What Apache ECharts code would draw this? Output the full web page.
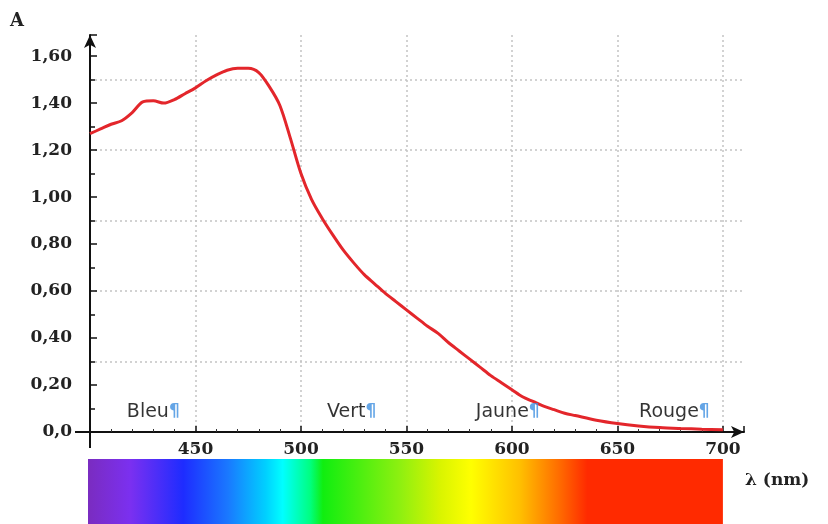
<!DOCTYPE html>
<html><head><meta charset="utf-8">
<script src="https://cdn.jsdelivr.net/npm/echarts@6/dist/echarts.min.js"></script>
<style>html,body{margin:0;padding:0;background:#fff}#c{width:828px;height:524px}</style>
</head><body><div id="c"></div>
<script>
// ---- data ----
const wavelengths = [400,405,410,415,420,425,430,435,440,445,450,455,460,465,470,475,480,485,490,495,500,505,510,515,520,525,530,535,540,545,550,555,560,565,570,575,580,585,590,595,600,605,610,615,620,625,630,640,650,660,670,680,690,700];
const absorbance  = [1.27,1.29,1.31,1.325,1.36,1.405,1.41,1.40,1.415,1.44,1.465,1.495,1.52,1.54,1.548,1.548,1.53,1.47,1.39,1.25,1.10,0.99,0.91,0.84,0.775,0.72,0.67,0.63,0.59,0.555,0.52,0.485,0.45,0.42,0.38,0.345,0.31,0.275,0.24,0.21,0.18,0.15,0.13,0.11,0.095,0.08,0.07,0.05,0.036,0.026,0.019,0.015,0.012,0.01];
const xTickValues = [450,500,550,600,650,700];
const yTickValues = [0,0.2,0.4,0.6,0.8,1.0,1.2,1.4,1.6];
const yTickLabels = ['0,0','0,20','0,40','0,60','0,80','1,00','1,20','1,40','1,60'];
const bandNames = ['Bleu','Vert','Jaune','Rouge'];
const bandWavelengths = [430,524,598,677];
const bandLevels = [0.085,0.085,0.085,0.085];
const spectrumWavelengths = [400,420,445,466,484,492,505,511,548,566,581,604,623,636,700];
const spectrumColors = ['#7a2cc0','#7b30f0','#1e2cff','#1a78ff','#00d0ff','#00ffff','#00ff80','#10ee10','#90f010','#d8f400','#ffff00','#ffc000','#ff6a00','#ff2a00','#ff2a00'];

const serifBold = {fontFamily:'DejaVu Serif', fontWeight:'bold', fontSize:17, color:'#222'};
const gridLine = {show:true, showMinLine:false, showMaxLine:false, lineStyle:{color:'#c4c4c4', type:[2,3], width:1.5}};

const chart = echarts.init(document.getElementById('c'), null, {renderer:'canvas'});
const option = {
  animation:false,
  backgroundColor:'#fff',
  grid:{left:90, right:84, top:35, bottom:92},
  xAxis:{
    type:'value', min:400, max:710, interval:50,
    axisLine:{show:true, onZero:false, symbol:['none','arrow'], symbolSize:[9,13], lineStyle:{color:'#111', width:2}},
    axisTick:{show:true, inside:true, length:6, lineStyle:{color:'#111', width:1.5}},
    minorTick:{show:true, splitNumber:5, length:3, lineStyle:{color:'#333', width:1}},
    axisLabel:Object.assign({margin:9, formatter:v => xTickValues.indexOf(v) >= 0 ? String(v) : ''}, serifBold),
    splitLine:gridLine
  },
  yAxis:[{
    type:'value', min:0, max:1.69, interval:0.2,
    axisLine:{show:true, symbol:['none','arrow'], symbolSize:[9,13], lineStyle:{color:'#111', width:2}},
    axisTick:{show:true, inside:true, length:7, lineStyle:{color:'#111', width:1.5}},
    minorTick:{show:true, splitNumber:2, length:5, lineStyle:{color:'#111', width:1.5}},
    axisLabel:Object.assign({margin:18, formatter:v => {
      const i = yTickValues.findIndex(t => Math.abs(t - v) < 1e-6);
      return i >= 0 ? yTickLabels[i] : '';
    }}, serifBold),
    splitLine:{show:false}
  },{
    type:'value', min:0, max:1.69, interval:0.3, position:'right',
    axisLine:{show:false}, axisTick:{show:false}, axisLabel:{show:false},
    splitLine:gridLine
  }],
  series:[{
    type:'line', name:'A',
    data: wavelengths.map((w,i) => [w, absorbance[i]]),
    showSymbol:false, smooth:0.3,
    lineStyle:{color:'#e3262b', width:3},
    z:3
  },{
    type:'scatter',
    data: bandNames.map((n,i) => ({name:n, value:[bandWavelengths[i], bandLevels[i]]})),
    symbolSize:0,
    label:{show:true, position:'inside', color:'#000', formatter:p => '{t|' + p.name + '}{p|¶}',
      rich:{t:{fontFamily:'DejaVu Sans', fontSize:19, color:'#000'},
            p:{fontFamily:'DejaVu Sans', fontSize:17, fontWeight:'bold', color:'#3d8fe0'}}},
    z:4
  }]
};
chart.setOption(option);

// decorations placed from the axis scales
const x400 = chart.convertToPixel({xAxisIndex:0}, 400);
const x700 = chart.convertToPixel({xAxisIndex:0}, 700);
const y0 = chart.convertToPixel({yAxisIndex:0}, 0);
const barTop = y0 + 27;
chart.setOption({graphic:[
  {type:'rect', shape:{x:x400 - 2, y:barTop, width:x700 - x400 + 2, height:524 - barTop},
   style:{fill:new echarts.graphic.LinearGradient(0,0,1,0,
     spectrumWavelengths.map((w,i) => ({offset:(w - 400) / 300, color:spectrumColors[i]})))}},
  {type:'line', shape:{x1:x400 - 15, y1:y0, x2:x400, y2:y0}, style:{stroke:'#111', lineWidth:2}},
  {type:'line', shape:{x1:x400, y1:y0, x2:x400, y2:y0 + 16}, style:{stroke:'#111', lineWidth:2}},
  {type:'text', left:10, top:12, style:{text:'A', font:'bold 18px "DejaVu Serif"', fill:'#222'}},
  {type:'text', left:745, top:472, style:{text:'λ (nm)', font:'bold 17px "DejaVu Serif"', fill:'#222'}}
]});
</script></body></html>
